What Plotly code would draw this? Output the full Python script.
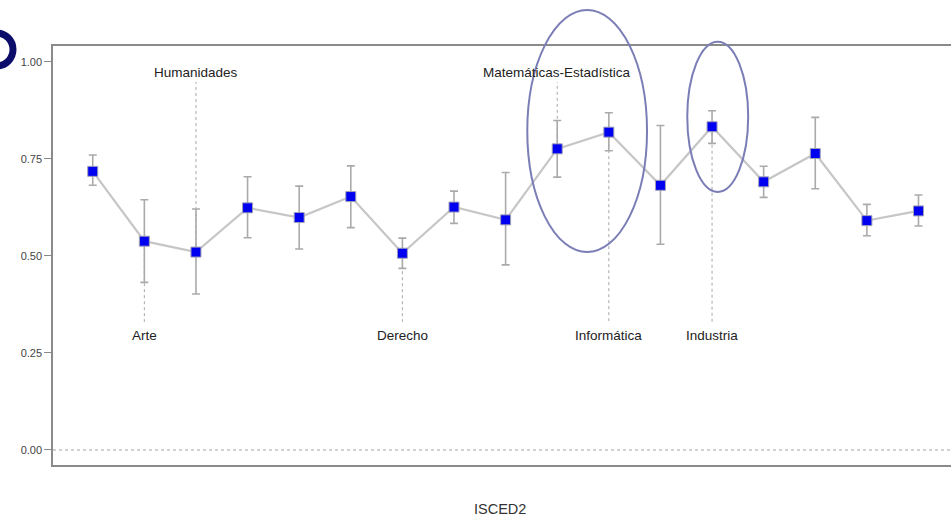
import plotly.graph_objects as go

# ---- data ----
idx = list(range(1, 18))
values = [0.718, 0.538, 0.510, 0.624, 0.599, 0.653, 0.507, 0.626, 0.593,
          0.776, 0.819, 0.682, 0.833, 0.691, 0.764, 0.591, 0.616]
upper = [0.760, 0.645, 0.621, 0.704, 0.680, 0.732, 0.546, 0.667, 0.715,
         0.849, 0.869, 0.836, 0.874, 0.731, 0.857, 0.633, 0.657]
lower = [0.682, 0.432, 0.402, 0.547, 0.518, 0.573, 0.468, 0.584, 0.477,
         0.703, 0.771, 0.530, 0.790, 0.651, 0.673, 0.552, 0.577]
labels = ["", "Arte", "Humanidades", "", "", "", "Derecho", "", "",
          "Matemáticas-Estadística", "Informática", "", "Industria", "", "", "", ""]
label_side = ["", "bottom", "top", "", "", "", "bottom", "", "",
              "top", "bottom", "", "bottom", "", "", "", ""]
label_y_top = 0.974
label_y_bottom = 0.296
leader_top = 0.948
leader_bottom = 0.330
y_ticks = [0.00, 0.25, 0.50, 0.75, 1.00]
y_ticktext = ["0.00", "0.25", "0.50", "0.75", "1.00"]
x_title = "ISCED2"

W, H = 951, 529
L, R, T, B = 53, 0, 46, 64
pw, ph = W - L - R, H - T - B
XR = [0.23, 17.63]
YR = [-0.0387, 1.041]


def data_to_paper(x, y):
    return (x - XR[0]) / (XR[1] - XR[0]), (y - YR[0]) / (YR[1] - YR[0])


def px_to_paper(px, py):
    return (px - L) / pw, (H - B - py) / ph


fig = go.Figure()

# dotted zero line
fig.add_trace(go.Scatter(x=XR, y=[0, 0], mode="lines",
                         line=dict(color="#c4c4c4", width=1.5, dash="dot"),
                         hoverinfo="skip", showlegend=False))

# leader lines for labelled categories
for i, lab, side, v in zip(idx, labels, label_side, values):
    if not lab:
        continue
    end = leader_top if side == "top" else leader_bottom
    fig.add_trace(go.Scatter(x=[i, i], y=[v, end], mode="lines",
                             line=dict(color="#a8a8a8", width=1, dash="dot"),
                             hoverinfo="skip", showlegend=False))

# main line with error bars and square markers
fig.add_trace(go.Scatter(
    x=idx, y=values, mode="lines+markers",
    line=dict(color="#c6c6c6", width=2.2),
    marker=dict(symbol="square", size=10, color="#0000f0",
                line=dict(color="#a0a0b8", width=1)),
    error_y=dict(type="data", symmetric=False,
                 array=[u - v for u, v in zip(upper, values)],
                 arrayminus=[v - l for v, l in zip(values, lower)],
                 color="#aaaaaa", thickness=1.6, width=4),
    showlegend=False))

annotations = []
for i, lab, side in zip(idx, labels, label_side):
    if not lab:
        continue
    annotations.append(dict(x=i, y=label_y_top if side == "top" else label_y_bottom,
                            xref="x", yref="y", text=lab, showarrow=False,
                            font=dict(family="Liberation Sans, Arial", size=13.5, color="#222222")))
tx, ty = px_to_paper(500, 519)
annotations.append(dict(x=tx, y=ty, xref="paper", yref="paper", text=x_title,
                        showarrow=False, font=dict(family="Liberation Sans, Arial", size=14.5, color="#333333")))

# highlight ellipses around categories 10-11 and 13 (paper refs so they are not clipped)
e1x0, e1y0 = data_to_paper(9.42, 0.510)
e1x1, e1y1 = data_to_paper(11.74, 1.134)
e2x0, e2y0 = data_to_paper(12.52, 0.665)
e2x1, e2y1 = data_to_paper(13.70, 1.052)
bx0, by0 = px_to_paper(-20, 66)
bx1, by1 = px_to_paper(13, 33)
shapes = [
    dict(type="circle", xref="paper", yref="paper", x0=e1x0, x1=e1x1, y0=e1y0, y1=e1y1,
         line=dict(color="#7b7eb6", width=2)),
    dict(type="circle", xref="paper", yref="paper", x0=e2x0, x1=e2x1, y0=e2y0, y1=e2y1,
         line=dict(color="#7b7eb6", width=2)),
    # cropped badge ring at top-left
    dict(type="circle", xref="paper", yref="paper", x0=bx0, x1=bx1, y0=by0, y1=by1,
         fillcolor="white", line=dict(color="#0c0c6a", width=7), layer="above"),
]

fig.update_layout(
    width=W, height=H,
    margin=dict(l=L, r=R, t=T, b=B),
    paper_bgcolor="white", plot_bgcolor="white",
    showlegend=False,
    annotations=annotations,
    shapes=shapes,
    xaxis=dict(range=XR, showticklabels=False, ticks="", showgrid=False,
               zeroline=False, showline=True, mirror=True, linecolor="#8a8a8a", linewidth=1.5),
    yaxis=dict(range=YR, tickvals=y_ticks, ticktext=y_ticktext,
               ticks="outside", ticklen=7, tickcolor="#8a8a8a", tickwidth=1,
               showgrid=False, zeroline=False, showline=True, mirror=False,
               linecolor="#8a8a8a", linewidth=1.5,
               tickfont=dict(family="Liberation Sans, Arial", size=11, color="#444444")),
)

fig.write_html("out.html", config={"displayModeBar": False},
               post_script="document.body.style.margin='0';document.body.style.overflow='hidden';")
